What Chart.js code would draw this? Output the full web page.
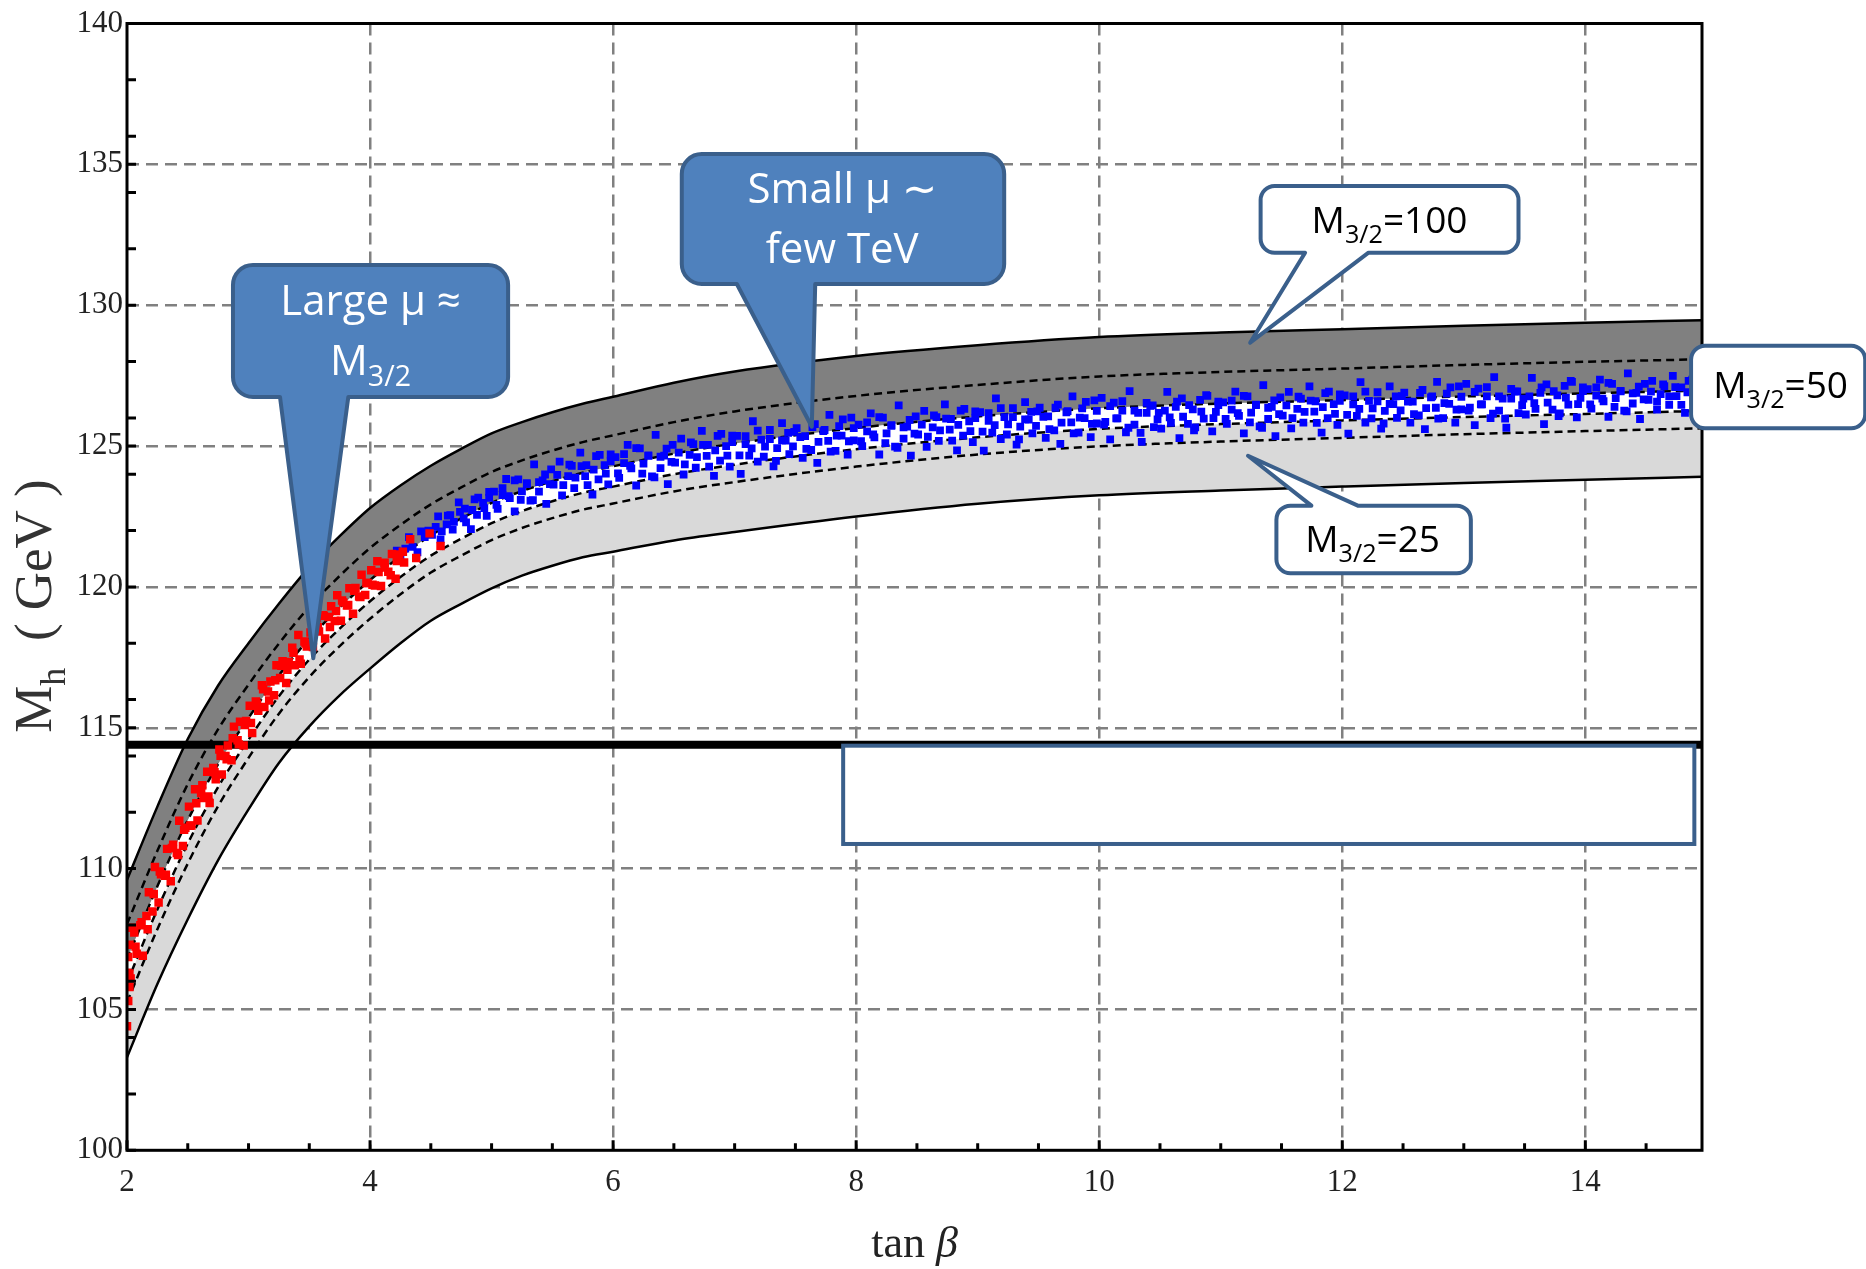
<!DOCTYPE html>
<html><head><meta charset="utf-8">
<script src="https://cdn.jsdelivr.net/npm/chart.js@4.4.1/dist/chart.umd.min.js"></script>
<style>html,body{margin:0;padding:0;background:#fff;}canvas{display:block;}</style>
</head><body>
<canvas id="c" width="1866" height="1269"></canvas>
<script>
// ---------- data ----------
const curveX = [2, 2.25, 2.5, 2.75, 3, 3.25, 3.5, 3.75, 4, 4.25, 4.5, 4.75, 5, 5.25, 5.5, 5.75, 6, 6.5, 7, 8, 9, 10, 11, 12, 13, 14, 14.96];
const upper100 = [109.6, 112.2, 114.6, 116.5, 118.0, 119.4, 120.7, 121.8, 122.8, 123.6, 124.3, 124.9, 125.45, 125.85, 126.2, 126.5, 126.75, 127.25, 127.65, 128.2, 128.58, 128.87, 129.03, 129.15, 129.27, 129.38, 129.47];
const inner100 = [108.03, 110.63, 113.0, 114.95, 116.53, 117.99, 119.29, 120.39, 121.38, 122.2, 122.93, 123.53, 124.08, 124.49, 124.84, 125.14, 125.38, 125.85, 126.23, 126.78, 127.17, 127.47, 127.63, 127.75, 127.88, 127.99, 128.08];
const upper50 = [106.77, 109.37, 111.72, 113.71, 115.35, 116.86, 118.16, 119.26, 120.24, 121.08, 121.83, 122.43, 122.98, 123.4, 123.75, 124.05, 124.28, 124.73, 125.09, 125.64, 126.05, 126.34, 126.51, 126.63, 126.76, 126.87, 126.97];
const lower50 = [105.95, 108.55, 110.89, 112.9, 114.58, 116.12, 117.42, 118.52, 119.49, 120.35, 121.11, 121.71, 122.26, 122.69, 123.04, 123.34, 123.56, 124.0, 124.34, 124.89, 125.31, 125.61, 125.78, 125.91, 126.03, 126.14, 126.25];
const inner25 = [105.25, 107.85, 110.18, 112.22, 113.93, 115.5, 116.8, 117.9, 118.87, 119.74, 120.51, 121.11, 121.66, 122.09, 122.44, 122.74, 122.96, 123.39, 123.72, 124.27, 124.7, 124.99, 125.16, 125.29, 125.42, 125.53, 125.63];
const lower25 = [103.3, 105.9, 108.2, 110.3, 112.1, 113.75, 115.05, 116.15, 117.1, 118.0, 118.8, 119.4, 119.95, 120.4, 120.75, 121.05, 121.25, 121.65, 121.95, 122.5, 122.95, 123.25, 123.42, 123.56, 123.69, 123.8, 123.91];

const lepX = [2, 14.96];
const lepY = [114.4, 114.4];

const redX = [2.0, 2.01, 2.02, 2.0, 2.04, 2.02,
 2.01, 2.03, 2.06, 2.08, 2.11, 2.13, 2.16, 2.18, 2.21, 2.23, 2.26, 2.28, 2.31, 2.33, 2.36, 2.38, 2.41, 2.43, 2.46, 2.48,
 2.51, 2.53, 2.56, 2.58, 2.61, 2.63, 2.66, 2.68, 2.71, 2.73, 2.76, 2.78, 2.81, 2.83, 2.86, 2.88, 2.91, 2.93, 2.96, 2.98,
 3.01, 3.03, 3.06, 3.08, 3.11, 3.13, 3.16, 3.18, 3.21, 3.23, 3.26, 3.28, 3.31, 3.33, 3.36, 3.38, 3.41, 3.43, 3.46, 3.48,
 3.51, 3.53, 3.56, 3.58, 3.61, 3.63, 3.66, 3.68, 3.71, 3.73, 3.76, 3.78, 3.81, 3.83, 3.86, 3.88, 3.91, 3.93, 3.96, 3.98,
 4.01, 4.04, 4.06, 4.09, 4.12, 4.15, 4.18, 4.21, 4.24, 4.28, 4.33, 4.38, 4.49, 4.58,
 2.02, 2.07, 2.12, 2.17, 2.22, 2.27, 2.32, 2.37, 2.42, 2.47,
 2.52, 2.57, 2.62, 2.67, 2.72, 2.77, 2.82, 2.87, 2.92, 2.97,
 3.02, 3.07, 3.12, 3.17, 3.22, 3.27, 3.32, 3.37, 3.42, 3.47,
 3.52, 3.57, 3.62, 3.67, 3.72, 3.77, 3.82, 3.87, 3.92, 3.97,
 4.02, 4.07, 4.12, 4.17, 4.22, 4.27];
const redY = [104.4, 105.3, 105.8, 106.3, 107.9, 107.3,
 106.86, 106.1, 107.73, 106.98, 107.99, 106.91, 108.32, 109.16, 108.48, 110.06, 108.8, 109.8, 109.75, 110.7, 109.55, 110.85, 110.55, 111.7, 110.8, 111.45,
 112.2, 111.53, 112.82, 111.71, 112.68, 112.51, 113.44, 112.33, 113.57, 113.17, 114.23, 113.34, 114.0, 114.37, 113.85, 115.04, 114.56, 115.21, 114.37, 115.24,
 115.78, 114.81, 115.93, 115.6, 116.51, 115.74, 116.29, 116.64, 116.15, 117.22, 116.77, 117.36, 116.59, 117.33, 117.84, 117.22, 118.29, 117.27, 118.06, 117.88,
 118.38, 117.87, 118.89, 118.42, 118.99, 118.17, 118.93, 119.31, 118.79, 119.7, 118.8, 119.45, 119.34, 119.95, 119.05, 119.96, 119.66, 120.43, 119.71, 120.14,
 120.59, 120.05, 120.91, 120.03, 120.69, 120.54, 121.17, 120.29, 121.15, 120.87, 121.69, 121.03, 121.9, 121.45,
 106.28, 107.23, 108.1, 107.85, 109.1, 109.9, 109.78, 110.73, 110.48, 111.38,
 111.52, 112.32, 112.96, 112.56, 113.42, 114.01, 113.88, 114.63, 114.41, 115.1,
 115.17, 115.85, 116.37, 115.97, 116.69, 117.2, 117.06, 117.66, 117.42, 117.99,
 118.02, 118.57, 118.98, 118.58, 119.14, 119.52, 119.36, 119.86, 119.64, 120.14,
 120.08, 120.53, 120.86, 120.41, 120.92, 121.25];

const blueX = [4.22,4.25,4.29,4.32,4.35,4.39,4.42,4.45,4.48,
 4.51,4.56,4.58,4.63,4.66,4.68,4.73,4.77,4.78,4.83,4.86,4.88,4.93,4.96,4.98,
 5.02,5.05,5.09,5.12,5.15,5.19,5.22,5.25,5.29,5.32,5.35,5.39,5.42,5.45,5.49,
 5.51,5.56,5.58,5.63,5.66,5.68,5.73,5.77,5.78,5.83,5.86,5.88,5.93,5.96,5.98,
 6.02,6.05,6.09,6.12,6.15,6.19,6.22,6.25,6.29,6.32,6.35,6.39,6.42,6.45,6.49,
 6.51,6.56,6.58,6.63,6.66,6.68,6.73,6.77,6.78,6.83,6.86,6.88,6.93,6.96,6.98,
 7.02,7.05,7.09,7.12,7.15,7.19,7.22,7.25,7.29,7.32,7.35,7.39,7.42,7.45,7.49,
 7.51,7.56,7.58,7.63,7.66,7.68,7.73,7.77,7.78,7.83,7.86,7.88,7.93,7.96,7.98,
 8.02,8.05,8.09,8.12,8.15,8.19,8.22,8.25,8.29,8.32,8.35,8.39,8.42,8.45,8.49,
 8.51,8.56,8.58,8.63,8.66,8.68,8.73,8.77,8.78,8.83,8.86,8.88,8.93,8.96,8.98,
 9.02,9.05,9.09,9.12,9.15,9.19,9.22,9.25,9.29,9.32,9.35,9.39,9.42,9.45,9.49,
 9.51,9.56,9.58,9.63,9.66,9.68,9.73,9.77,9.78,9.83,9.86,9.88,9.93,9.96,9.98,
 10.02,10.05,10.09,10.12,10.15,10.19,10.22,10.25,10.29,10.32,10.35,10.39,10.42,10.45,10.49,
 10.51,10.56,10.58,10.63,10.66,10.68,10.73,10.77,10.78,10.83,10.86,10.88,10.93,10.96,10.98,
 11.02,11.05,11.09,11.12,11.15,11.19,11.22,11.25,11.29,11.32,11.35,11.39,11.42,11.45,11.49,
 11.51,11.56,11.58,11.63,11.66,11.68,11.73,11.77,11.78,11.83,11.86,11.88,11.93,11.96,11.98,
 12.02,12.05,12.09,12.12,12.15,12.19,12.22,12.25,12.29,12.32,12.35,12.39,12.42,12.45,12.49,
 12.51,12.56,12.58,12.63,12.66,12.68,12.73,12.77,12.78,12.83,12.86,12.88,12.93,12.96,12.98,
 13.02,13.05,13.09,13.12,13.15,13.19,13.22,13.25,13.29,13.32,13.35,13.39,13.42,13.45,13.49,
 13.51,13.56,13.58,13.63,13.66,13.68,13.73,13.77,13.78,13.83,13.86,13.88,13.93,13.96,13.98,
 14.02,14.05,14.09,14.12,14.15,14.19,14.22,14.25,14.29,14.32,14.35,14.39,14.42,14.45,14.49,
 14.52,14.55,14.59,14.62,14.65,14.69,14.72,14.75,14.79,14.82,14.85,14.89,
 4.54,4.59,4.64,4.69,4.74,4.79,4.84,4.89,4.94,4.98,
 5.04,5.09,5.14,5.19,5.24,5.29,5.34,5.39,5.44,5.48,
 5.54,5.59,5.64,5.69,5.74,5.79,5.84,5.89,5.94,5.98,
 6.04,6.09,6.14,6.19,6.24,6.29,6.34,6.39,6.44,6.48,
 6.54,6.59,6.64,6.69,6.74,6.79,6.84,6.89,6.94,6.98,
 7.04,7.09,7.14,7.19,7.24,7.29,7.34,7.39,7.44,7.48,
 7.54,7.59,7.64,7.69,7.74,7.79,7.84,7.89,7.94,7.98,
 8.04,8.09,8.14,8.19,8.24,8.29,8.34,8.39,8.44,8.48,
 8.54,8.59,8.64,8.69,8.74,8.79,8.84,8.89,8.94,8.98,
 9.04,9.09,9.14,9.19,9.24,9.29,9.34,9.39,9.44,9.48,
 9.54,9.59,9.64,9.69,9.74,9.79,9.84,9.89,9.94,9.98,
 10.04,10.09,10.14,10.19,10.24,10.29,10.34,10.39,10.44,10.48,
 10.54,10.59,10.64,10.69,10.74,10.79,10.84,10.89,10.94,10.98,
 11.04,11.09,11.14,11.19,11.24,11.29,11.34,11.39,11.44,11.48,
 11.54,11.59,11.64,11.69,11.74,11.79,11.84,11.89,11.94,11.98,
 12.04,12.09,12.14,12.19,12.24,12.29,12.34,12.39,12.44,12.48,
 12.54,12.59,12.64,12.69,12.74,12.79,12.84,12.89,12.94,12.98,
 13.04,13.09,13.14,13.19,13.24,13.29,13.34,13.39,13.44,13.48,
 13.54,13.59,13.64,13.69,13.74,13.79,13.84,13.89,13.94,13.98,
 14.04,14.09,14.14,14.19,14.24,14.29,14.34,14.39,14.44,14.48,
 14.54,14.59,14.64,14.69,14.74,14.79,14.84,14.88];
const blueY = [121.29,120.99,121.36,121.77,121.42,121.23,121.97,121.77,122.0,
 121.85,122.5,121.69,122.22,122.55,122.03,123.0,122.43,122.78,122.05,123.11,122.56,122.98,122.52,123.37,
 123.38,122.77,123.26,123.83,123.15,122.68,123.82,123.39,123.68,123.06,124.35,123.38,123.78,122.95,124.17,
 123.63,124.45,123.25,123.93,124.3,123.51,124.77,123.93,124.32,123.28,124.64,123.82,124.32,123.64,124.7,
 124.61,123.87,124.39,125.04,124.21,123.6,124.92,124.38,124.67,123.92,125.4,124.22,124.66,123.65,125.04,
 124.41,125.26,123.99,124.69,125.07,124.23,125.54,124.65,125.04,123.94,125.36,124.48,125.0,124.27,125.37,
 125.36,124.01,125.07,124.66,125.88,124.45,125.23,124.98,125.57,124.28,124.93,125.81,125.19,124.71,125.5,
 125.64,124.58,125.35,124.86,125.78,124.4,125.53,125.18,126.11,124.83,125.71,125.37,124.7,126.01,125.2,
 125.76,125.0,125.52,126.16,125.31,124.7,126.01,125.45,125.74,124.98,126.44,125.26,125.69,124.66,126.05,
 125.41,126.25,124.97,125.66,126.03,125.18,126.48,125.58,125.96,124.85,126.26,125.37,125.88,125.14,126.23,
 126.2,124.84,125.89,125.48,126.69,125.25,126.03,125.77,126.35,125.05,125.69,126.56,125.94,125.45,126.23,
 126.36,125.29,126.05,125.56,126.47,125.08,126.2,125.84,126.76,125.48,126.34,125.99,125.32,126.62,125.8,
 126.71,125.86,125.24,126.54,125.98,126.26,125.49,126.95,125.76,126.18,125.15,126.53,126.43,125.67,126.18,
 125.62,126.92,126.02,126.39,125.28,126.69,125.79,126.3,125.56,126.64,125.97,126.81,125.52,126.21,126.58,
 126.55,125.79,126.29,126.93,126.07,125.45,126.76,126.19,126.47,125.7,127.16,125.96,126.39,125.35,126.73,
 126.08,126.92,125.63,126.32,126.68,125.83,127.12,126.22,126.59,125.48,126.88,125.99,126.49,125.75,126.83,
 126.8,125.44,126.48,126.07,127.27,125.83,126.6,126.34,126.91,125.62,126.25,127.12,126.49,126.0,126.77,
 126.9,125.83,126.58,126.09,126.99,125.6,126.73,126.36,127.28,125.99,126.86,126.5,125.83,127.12,126.3,
 127.21,126.36,125.74,127.04,126.48,126.76,125.99,127.45,126.26,126.68,125.65,127.03,126.93,126.17,126.68,
 126.12,127.42,126.52,126.89,125.78,127.19,126.29,126.8,126.06,127.14,126.47,127.31,126.02,126.71,127.08,
 127.02,126.33,126.79,127.36,126.59,126.04,127.21,126.7,126.96,126.26,127.58,126.51,126.89,125.96,127.21,
 126.64,127.31,126.29,126.84,127.13,126.46,127.49,126.77,127.08,126.18,127.31,126.6,
 122.13,121.97,122.53,122.31,122.66,122.29,122.73,123.17,122.8,123.16,
 122.91,123.51,123.22,123.78,123.09,123.65,123.08,123.72,123.99,123.65,
 123.98,123.61,124.34,123.88,124.29,123.61,124.16,124.69,124.02,124.46,
 124.03,124.71,124.3,124.93,124.02,124.65,123.89,124.62,124.91,124.44,
 124.77,124.35,125.13,124.61,125.04,124.27,124.85,125.43,124.66,125.14,
 124.67,125.35,124.92,125.55,124.62,125.25,124.47,125.2,125.47,124.99,
 125.32,124.9,125.67,125.15,125.57,124.8,125.37,125.95,125.17,125.64,
 125.17,125.84,125.41,126.03,125.1,125.72,124.94,125.66,125.93,125.44,
 125.76,125.33,126.09,125.56,125.97,125.19,125.75,126.32,125.53,125.99,
 125.51,126.17,125.74,126.35,125.41,126.03,125.24,125.95,126.21,125.72,
 126.04,125.6,126.36,125.83,126.24,125.45,126.01,126.57,125.79,126.25,
 125.76,126.42,125.98,126.59,125.65,126.26,125.47,126.18,126.44,125.95,
 126.26,125.82,126.58,126.04,126.45,125.66,126.22,126.78,125.99,126.45,
 125.96,126.61,126.17,126.78,125.84,126.45,125.65,126.36,126.62,126.13,
 126.44,125.99,126.75,126.21,126.61,125.82,126.38,126.93,126.14,126.6,
 126.11,126.76,126.32,126.93,125.98,126.59,125.8,126.5,126.76,126.27,
 126.58,126.13,126.89,126.35,126.76,125.97,126.52,127.08,126.29,126.75,
 126.26,126.92,126.48,127.09,126.15,126.76,125.97,126.68,126.94,126.45,
 126.76,126.32,127.08,126.54,126.95,126.16,126.72,127.28,126.49,126.95,
 126.48,127.08,126.68,127.24,126.39,126.94,126.23,126.87,127.11,126.66,
 126.93,126.58,127.19,126.76,127.09,126.46,126.91,127.36];

// ticks
const xLabelValues = [2, 4, 6, 8, 10, 12, 14];
const xTickLabels = ['2', '4', '6', '8', '10', '12', '14'];
const xMinorTicks = [2.5,3,3.5,4.5,5,5.5,6.5,7,7.5,8.5,9,9.5,10.5,11,11.5,12.5,13,13.5,14.5];
const yLabelValues = [100, 105, 110, 115, 120, 125, 130, 135, 140];
const yTickLabels = ['100', '105', '110', '115', '120', '125', '130', '135', '140'];
const yMinorTicks = [102,104,106,108,112,114,116,118,122,124,126,128,132,134,136,138];
const xGridValues = [4, 6, 8, 10, 12, 14];
const yGridValues = [105, 110, 115, 120, 125, 130, 135];

// annotations (data coordinates)
const callouts = [
  {box: [2.872, 131.427, 5.136, 126.742], r: 20, fill: '#4F81BD', color: '#fff', size: 42,
   tail: {edge: 'bottom', a: 3.259, b: 3.821, tx: 3.533, ty: 117.465},
   lines: [{cx: 4.004, by: 129.652, parts: [{t: 'Large \u03BC \u2248'}]},
           {cx: 4.004, by: 127.522, parts: [{t: 'M'}, {t: '3/2', sub: true}]}]},
  {box: [6.565, 135.367, 9.218, 130.753], r: 20, fill: '#4F81BD', color: '#fff', size: 42,
   tail: {edge: 'bottom', a: 7.018, b: 7.663, tx: 7.635, ty: 125.687},
   lines: [{cx: 7.885, by: 133.617, parts: [{t: 'Small \u03BC \u223C'}]},
           {cx: 7.885, by: 131.487, parts: [{t: 'few TeV'}]}]},
  {box: [11.328, 134.231, 13.450, 131.864], r: 14, fill: '#fff', color: '#000', size: 37,
   tail: {edge: 'bottom', a: 11.694, b: 12.216, tx: 11.242, ty: 128.669},
   lines: [{cx: 12.389, by: 132.552, parts: [{t: 'M'}, {t: '3/2', sub: true}, {t: '=100'}]}]},
  {box: [14.870, 128.562, 16.303, 125.630], r: 14, fill: '#fff', color: '#000', size: 37,
   tail: null,
   lines: [{cx: 15.607, by: 126.695, parts: [{t: 'M'}, {t: '3/2', sub: true}, {t: '=50'}]}]},
  {box: [11.458, 122.883, 13.058, 120.483], r: 14, fill: '#fff', color: '#000', size: 37,
   tail: {edge: 'top', a: 11.746, b: 12.128, tx: 11.224, ty: 124.657},
   lines: [{cx: 12.250, by: 121.250, parts: [{t: 'M'}, {t: '3/2', sub: true}, {t: '=25'}]}]}
];
const emptyBox = [7.893, 114.363, 14.897, 110.874];

// ---------- helpers ----------
const pts = (xs, ys) => xs.map((x, i) => ({x: x, y: ys[i]}));
const near = (v, arr) => arr.some(a => Math.abs(a - v) < 1e-6);

function richText(ctx, parts, cx, by, size, family, color) {
  const subSize = size * 0.68, subDy = size * 0.27;
  let w = 0;
  parts.forEach(p => { ctx.font = (p.sub ? subSize : size) + 'px ' + family; p.w = ctx.measureText(p.t).width; w += p.w; });
  let x = cx - w / 2;
  ctx.fillStyle = color; ctx.textAlign = 'left'; ctx.textBaseline = 'alphabetic';
  parts.forEach(p => { ctx.font = (p.sub ? subSize : size) + 'px ' + family; ctx.fillText(p.t, x, by + (p.sub ? subDy : 0)); x += p.w; });
}

function calloutPath(ctx, x0, y0, x1, y1, r, tail) {
  ctx.beginPath();
  ctx.moveTo(x0 + r, y0);
  if (tail && tail.edge === 'top') { ctx.lineTo(tail.a, y0); ctx.lineTo(tail.tx, tail.ty); ctx.lineTo(tail.b, y0); }
  ctx.lineTo(x1 - r, y0);
  ctx.arcTo(x1, y0, x1, y0 + r, r);
  ctx.lineTo(x1, y1 - r);
  ctx.arcTo(x1, y1, x1 - r, y1, r);
  if (tail && tail.edge === 'bottom') { ctx.lineTo(tail.b, y1); ctx.lineTo(tail.tx, tail.ty); ctx.lineTo(tail.a, y1); }
  ctx.lineTo(x0 + r, y1);
  ctx.arcTo(x0, y1, x0, y1 - r, r);
  ctx.lineTo(x0, y0 + r);
  ctx.arcTo(x0, y0, x0 + r, y0, r);
  ctx.closePath();
}

const decor = {
  id: 'decor',
  afterDraw(chart) {
    const ctx = chart.ctx, xs = chart.scales.x, ys = chart.scales.y, a = chart.chartArea;
    const X = v => xs.getPixelForValue(v), Y = v => ys.getPixelForValue(v);
    ctx.save();
    // frame
    ctx.strokeStyle = '#000'; ctx.lineWidth = 3; ctx.setLineDash([]);
    ctx.strokeRect(a.left, a.top, a.right - a.left, a.bottom - a.top);
    // tick marks (inside)
    ctx.beginPath();
    xLabelValues.forEach(v => { ctx.moveTo(X(v), a.bottom); ctx.lineTo(X(v), a.bottom - 10); });
    xMinorTicks.forEach(v => { ctx.moveTo(X(v), a.bottom); ctx.lineTo(X(v), a.bottom - 7); });
    yLabelValues.forEach(v => { ctx.moveTo(a.left, Y(v)); ctx.lineTo(a.left + 9, Y(v)); });
    yMinorTicks.forEach(v => { ctx.moveTo(a.left, Y(v)); ctx.lineTo(a.left + 9, Y(v)); });
    ctx.stroke();
    // axis titles
    ctx.fillStyle = '#222'; ctx.textBaseline = 'alphabetic'; ctx.textAlign = 'left';
    ctx.font = '44px "Liberation Serif"';
    const t1 = 'tan ', w1 = ctx.measureText(t1).width;
    ctx.font = 'italic 44px "Liberation Serif"';
    const w2 = ctx.measureText('\u03B2').width;
    const sx = (a.left + a.right) / 2 - (w1 + w2) / 2;
    ctx.font = '44px "Liberation Serif"'; ctx.fillText(t1, sx, 1257);
    ctx.font = 'italic 44px "Liberation Serif"'; ctx.fillText('\u03B2', sx + w1, 1257);
    ctx.save();
    ctx.translate(51, 606); ctx.rotate(-Math.PI / 2);
    richText(ctx, [{t: 'M'}, {t: 'h', sub: true}, {t: '  ( GeV )'}], 0, 0, 53, '"Liberation Serif"', '#333');
    ctx.restore();
    // empty box
    ctx.fillStyle = '#fff'; ctx.strokeStyle = '#3A5F8B'; ctx.lineWidth = 4;
    const bx0 = X(emptyBox[0]), by0 = Y(emptyBox[1]), bx1 = X(emptyBox[2]), by1 = Y(emptyBox[3]);
    ctx.fillRect(bx0, by0, bx1 - bx0, by1 - by0);
    ctx.strokeRect(bx0, by0, bx1 - bx0, by1 - by0);
    // callouts
    callouts.forEach(c => {
      const x0 = X(c.box[0]), y0 = Y(c.box[1]), x1 = X(c.box[2]), y1 = Y(c.box[3]);
      const tail = c.tail ? {edge: c.tail.edge, a: X(c.tail.a), b: X(c.tail.b), tx: X(c.tail.tx), ty: Y(c.tail.ty)} : null;
      calloutPath(ctx, x0, y0, x1, y1, c.r, tail);
      ctx.fillStyle = c.fill; ctx.fill();
      ctx.lineJoin = 'round'; ctx.lineWidth = 4; ctx.strokeStyle = '#3A5F8B'; ctx.stroke();
      c.lines.forEach(l => richText(ctx, l.parts.map(p => Object.assign({}, p)), X(l.cx), Y(l.by), c.size, '"Open Sans"', c.color));
    });
    ctx.restore();
  }
};

const band = (data, extra) => Object.assign({
  type: 'line', data: data, pointRadius: 0, borderColor: '#000', borderWidth: 2.5,
  cubicInterpolationMode: 'monotone', fill: false
}, extra);

new Chart(document.getElementById('c'), {
  type: 'line',
  data: {
    datasets: [
      {label: 'large mu', data: pts(redX, redY), showLine: false, pointStyle: 'rect', pointRadius: 6,
       pointBackgroundColor: '#FF0000', pointBorderWidth: 0, borderColor: '#FF0000'},
      {label: 'small mu', data: pts(blueX, blueY), showLine: false, pointStyle: 'rect', pointRadius: 5.5,
       pointBackgroundColor: '#0000FF', pointBorderWidth: 0, borderColor: '#0000FF'},
      {label: 'LEP', data: pts(lepX, lepY), pointRadius: 0, borderColor: '#000', borderWidth: 8, fill: false},
      band(pts(curveX, upper100), {fill: '+2', backgroundColor: '#808080'}),
      band(pts(curveX, inner100), {borderDash: [8, 5]}),
      band(pts(curveX, upper50), {borderDash: [8, 5], fill: '+1', backgroundColor: '#FFFFFF'}),
      band(pts(curveX, lower50), {borderDash: [8, 5], fill: '+2', backgroundColor: '#D9D9D9'}),
      band(pts(curveX, inner25), {borderDash: [8, 5]}),
      band(pts(curveX, lower25), {})
    ]
  },
  options: {
    responsive: false, animation: false, events: [],
    layout: {padding: {left: 0, right: 164, top: 23.5, bottom: 0}},
    plugins: {legend: {display: false}, tooltip: {enabled: false},
              filler: {drawTime: 'beforeDatasetsDraw', propagate: false}},
    scales: {
      x: {type: 'linear', min: 2, max: 14.96,
          afterFit: s => { s.height = 118.7; },
          ticks: {stepSize: 0.5, autoSkip: false, maxRotation: 0, minRotation: 0, padding: 14,
                  font: {family: 'Liberation Serif', size: 31}, color: '#222',
                  callback: v => { const i = xLabelValues.findIndex(t => Math.abs(t - v) < 1e-6); return i >= 0 ? xTickLabels[i] : ''; }},
          grid: {drawTicks: false, lineWidth: 2.5,
                 color: c => (c.tick && near(c.tick.value, xGridValues)) ? '#808080' : 'rgba(0,0,0,0)'},
          border: {display: false, dash: [12, 7]}},
      y: {type: 'linear', min: 100, max: 140,
          afterFit: s => { s.width = 127; },
          ticks: {stepSize: 1, autoSkip: false, padding: 4,
                  font: {family: 'Liberation Serif', size: 31}, color: '#222',
                  callback: v => { const i = yLabelValues.findIndex(t => Math.abs(t - v) < 1e-6); return i >= 0 ? yTickLabels[i] : ''; }},
          grid: {drawTicks: false, lineWidth: 2.5,
                 color: c => (c.tick && near(c.tick.value, yGridValues)) ? '#808080' : 'rgba(0,0,0,0)'},
          border: {display: false, dash: [12, 7]}}
    }
  },
  plugins: [decor]
});
</script>
</body></html>
